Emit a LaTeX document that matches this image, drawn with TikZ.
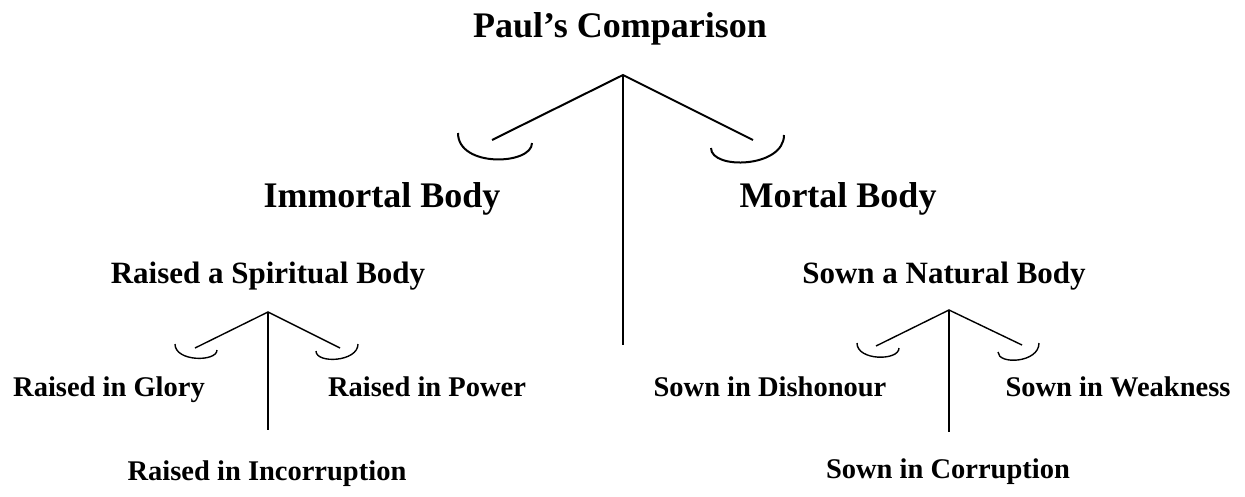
\documentclass[tikz,border=0pt]{standalone}
\usepackage{fontspec}
\setmainfont{Liberation Serif}
\begin{document}
\begin{tikzpicture}[x=1pt,y=-1pt]
  \tikzset{ big/.style={font=\bfseries\fontsize{36}{40}\selectfont,inner sep=0pt,anchor=base},
    mid/.style={font=\bfseries\fontsize{31}{35}\selectfont,inner sep=0pt,anchor=base},
    small/.style={font=\bfseries\fontsize{28.5}{32}\selectfont,inner sep=0pt,anchor=base},
    arm/.style={line width=2pt},
    twig/.style={line width=1.4pt},
  }
  \useasboundingbox (0,0) rectangle (1245,496);

  \node[big] (title) at (620,37)   {Paul’s Comparison};
  \node[big] (imm) at (382,207)   {Immortal Body};
  \node[big] (mor) at (838,207)   {Mortal Body};
  \node[mid] (spir) at (268,283)   {Raised a Spiritual Body};
  \node[mid] (nat) at (944,283)   {Sown a Natural Body};
  \node[small] (glory) at (109,396)   {Raised in Glory};
  \node[small] (power) at (427,396)   {Raised in Power};
  \node[small] (incor) at (267,480)   {Raised in Incorruption};
  \node[small] (dish) at (770,396)   {Sown in Dishonour};
  \node[small] (weak) at (1118,396)   {Sown in Weakness};
  \node[small] (cor) at (948,478)   {Sown in Corruption};

  % main balance
  \coordinate (top) at (623,75);
  \coordinate (topL) at (492,140);
  \coordinate (topR) at (753,140);
  \coordinate (topB) at (623,345);
  \draw[arm] (topL) -- (top) -- (topR);
  \draw[arm] (top) -- (topB);
  \draw[arm] (458,133) .. controls (458,168) and (532,165) .. (532,143);
  \draw[arm] (711,148) .. controls (711,170) and (784,168) .. (784,135);

  % raised balance
  \coordinate (ra) at (268,312);
  \coordinate (raL) at (195,348);
  \coordinate (raR) at (340,348);
  \coordinate (raB) at (268,430);
  \draw[twig] (raL) -- (ra) -- (raR);
  \draw[twig] (ra) -- (raB);
  \draw[twig] (175,344) .. controls (175,362) and (217,362) .. (217,350);
  \draw[twig] (316,351) .. controls (316,364) and (358,362) .. (358,344);

  % sown balance
  \coordinate (so) at (949,310);
  \coordinate (soL) at (876,346);
  \coordinate (soR) at (1022,345);
  \coordinate (soB) at (949,432);
  \draw[twig] (soL) -- (so) -- (soR);
  \draw[twig] (so) -- (soB);
  \draw[twig] (857,343) .. controls (857,361) and (899,361) .. (899,348);
  \draw[twig] (998,352) .. controls (998,365) and (1039,363) .. (1039,343);

\end{tikzpicture}
\end{document}
